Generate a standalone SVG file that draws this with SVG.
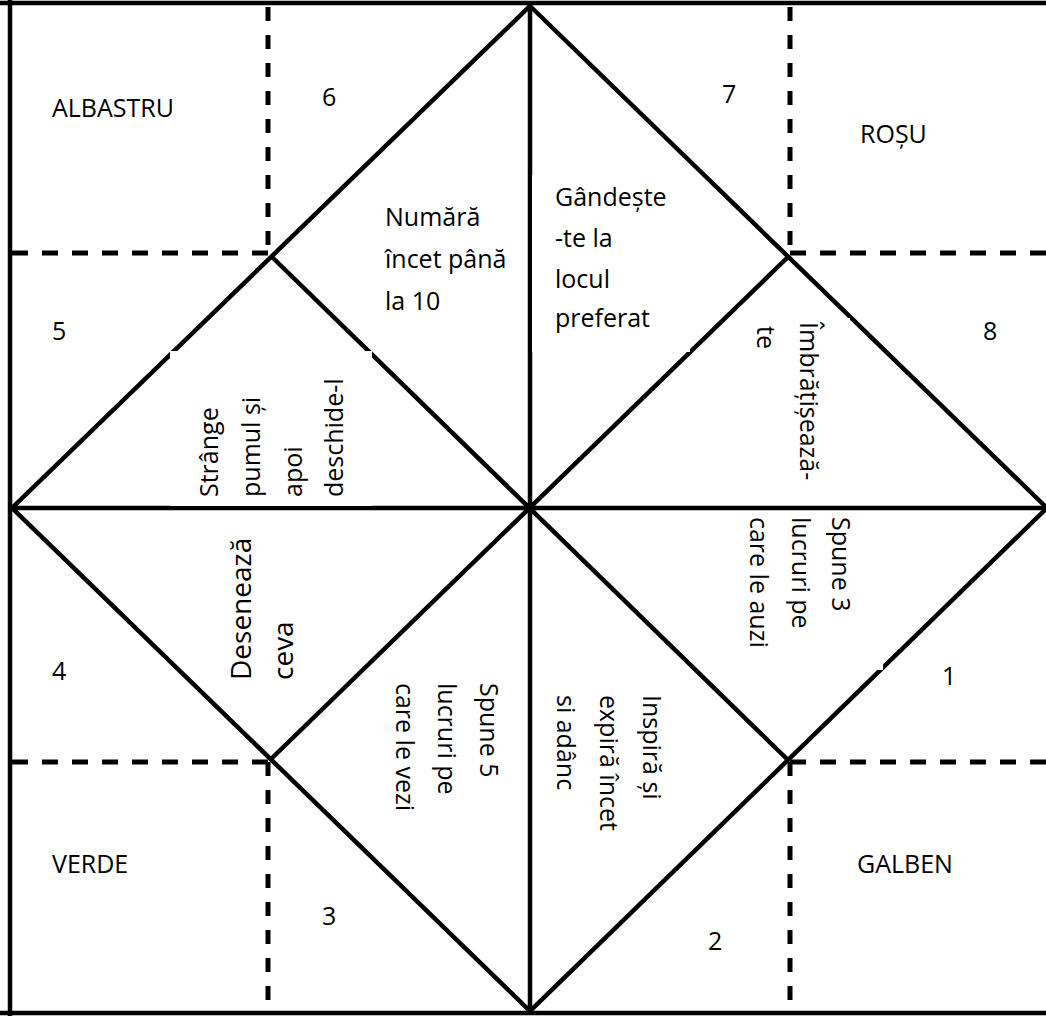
<svg xmlns="http://www.w3.org/2000/svg" width="1046" height="1016" viewBox="0 0 1046 1016">
<style>
.solid{stroke:#000;stroke-width:4.5;fill:none;stroke-linecap:butt}
.dashh{stroke:#000;stroke-width:5;fill:none;stroke-dasharray:16 14}
.dashv{stroke:#000;stroke-width:5;fill:none;stroke-dasharray:14 14}
.t{font-family:"Open Sans","Noto Sans","Liberation Sans",sans-serif;font-size:25px;fill:#000}
.big{font-size:28px}
.mask{fill:#fff;stroke:none}
</style>
<rect x="0" y="0" width="1046" height="1016" fill="#fff"/>
<g id="connectors">
<path class="solid" d="M0 3H1046 M10 0V1016 M0 1013H1046"/>
<polygon class="solid" points="530,6 1047,508 530,1011 12,508"/>
<path class="solid" d="M12 508H1046 M530 6V1011 M272 257L788 760 M788 257L270 760"/>
<path class="dashv" d="M268 7V253 M268 762V1012 M790 7V253 M790 762V1012"/>
<path class="dashh" d="M12 253H272 M790 253H1046 M12 762H270 M790 762H1046"/>
</g>
<g id="masks">
<rect class="mask" x="532" y="175" width="158" height="177"/>
<rect class="mask" x="170" y="351" width="202" height="155"/>
<rect class="mask" x="752" y="318" width="98" height="187"/>
<rect class="mask" x="740" y="512" width="143" height="158"/>
</g>
<g id="corner-labels">
<text class="t" x="52" y="117">ALBASTRU</text>
<text class="t" x="860" y="143">ROȘU</text>
<text class="t" x="52" y="873">VERDE</text>
<text class="t" x="857" y="873">GALBEN</text>
</g>
<g id="numbers">
<text class="t" x="322" y="106">6</text>
<text class="t" x="722" y="103">7</text>
<text class="t" x="52" y="340">5</text>
<text class="t" x="983" y="340">8</text>
<text class="t" x="52" y="680">4</text>
<text class="t" x="942" y="685">1</text>
<text class="t" x="322" y="925">3</text>
<text class="t" x="708" y="950">2</text>
</g>
<g id="task-numara">
<text class="t" x="385" y="226">Numără</text>
<text class="t" x="385" y="268">încet până</text>
<text class="t" x="385" y="310">la 10</text>
</g>
<g id="task-gandeste">
<text class="t" x="555" y="206">Gândește</text>
<text class="t" x="555" y="247">-te la</text>
<text class="t" x="555" y="288">locul</text>
<text class="t" x="555" y="327">preferat</text>
</g>
<g id="task-strange">
<text class="t" transform="translate(218,497) rotate(-90)">Strânge</text>
<text class="t" transform="translate(260,497) rotate(-90)">pumul și</text>
<text class="t" transform="translate(302,497) rotate(-90)">apoi</text>
<text class="t" transform="translate(343,497) rotate(-90)">deschide-l</text>
</g>
<g id="task-imbratiseaza">
<text class="t" transform="translate(800,322) rotate(90)">Îmbrățișează-</text>
<text class="t" transform="translate(757,326) rotate(90)">te</text>
</g>
<g id="task-spune3">
<text class="t" transform="translate(832,517) rotate(90)">Spune 3</text>
<text class="t" transform="translate(792,517) rotate(90)">lucruri pe</text>
<text class="t" transform="translate(750,517) rotate(90)">care le auzi</text>
</g>
<g id="task-deseneaza">
<text class="t big" transform="translate(251,680) rotate(-90)">Desenează</text>
<text class="t big" transform="translate(293,680) rotate(-90)">ceva</text>
</g>
<g id="task-spune5">
<text class="t" transform="translate(480,683) rotate(90)">Spune 5</text>
<text class="t" transform="translate(438,683) rotate(90)">lucruri pe</text>
<text class="t" transform="translate(396,683) rotate(90)">care le vezi</text>
</g>
<g id="task-inspira">
<text class="t" transform="translate(643,695) rotate(90)">Inspiră și</text>
<text class="t" transform="translate(600,695) rotate(90)">expiră încet</text>
<text class="t" transform="translate(557,695) rotate(90)">si adânc</text>
</g>
</svg>
